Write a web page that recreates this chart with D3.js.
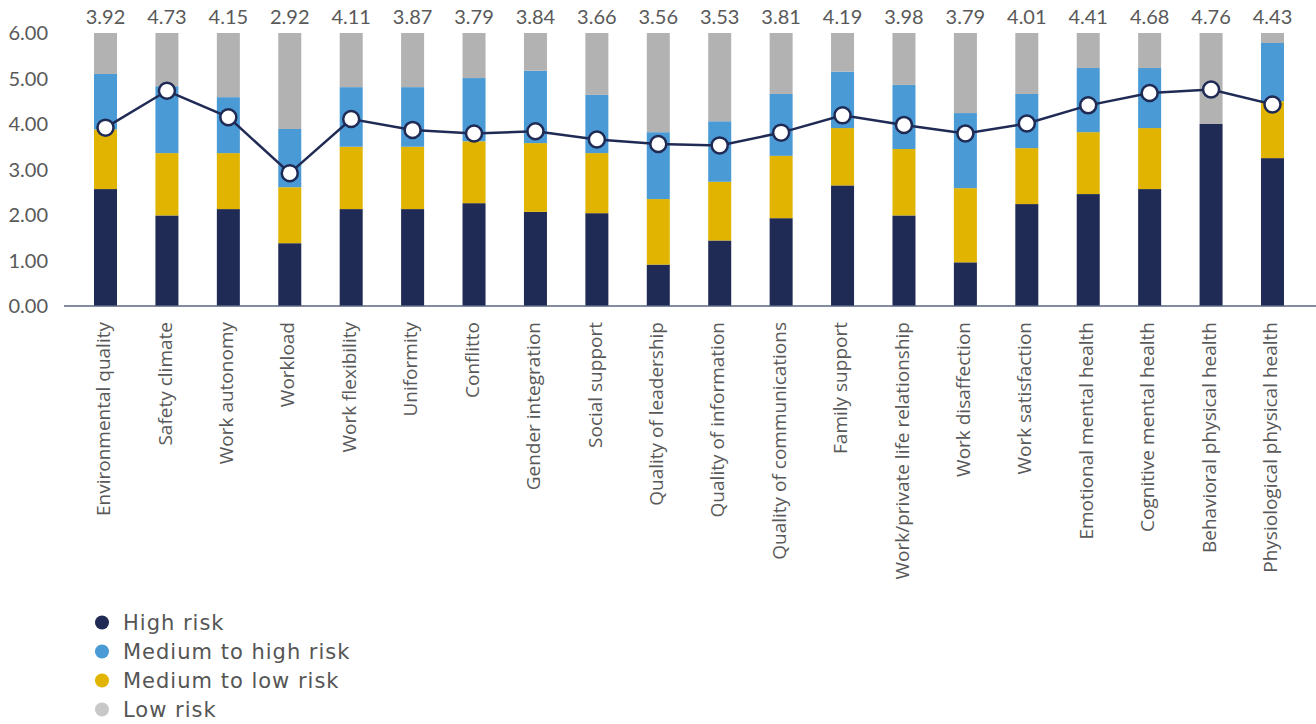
<!DOCTYPE html>
<html><head><meta charset="utf-8">
<script src="https://cdn.jsdelivr.net/npm/d3@7"></script>
<style>body{margin:0;background:#fff}svg{display:block}</style>
</head><body><svg id="c" width="1316" height="724"></svg>
<script>
const categories = ["Environmental quality","Safety climate","Work autonomy","Workload","Work flexibility","Uniformity","Conflitto","Gender integration","Social support","Quality of leadership","Quality of information","Quality of communications","Family support","Work/private life relationship","Work disaffection","Work satisfaction","Emotional mental health","Cognitive mental health","Behavioral physical health","Physiological physical health"];
const highRisk      = [2.57,1.99,2.13,1.38,2.13,2.13,2.26,2.07,2.04,0.91,1.44,1.93,2.65,1.99,0.96,2.24,2.46,2.57,4.00,3.25];
const mediumLowRisk = [1.31,1.37,1.23,1.23,1.37,1.37,1.36,1.51,1.32,1.44,1.29,1.37,1.26,1.46,1.63,1.23,1.36,1.34,0.00,1.25];
const mediumHighRisk= [1.22,1.47,1.23,1.28,1.31,1.31,1.39,1.59,1.28,1.47,1.33,1.36,1.24,1.41,1.65,1.19,1.41,1.32,0.00,1.28];
const lowRisk       = [0.90,1.17,1.41,2.11,1.19,1.19,0.99,0.83,1.36,2.18,1.94,1.34,0.85,1.14,1.76,1.34,0.77,0.77,2.00,0.22];
const meanScore     = [3.92,4.73,4.15,2.92,4.11,3.87,3.79,3.84,3.66,3.56,3.53,3.81,4.19,3.98,3.79,4.01,4.41,4.68,4.76,4.43];
const yTicks = [0,1,2,3,4,5,6];
const seriesNames = ["High risk","Medium to high risk","Medium to low risk","Low risk"];
</script>
<script>
// stacking order bottom->top: high (navy), medium-low (yellow), medium-high (blue), low (gray)
const stackKeys = ["high","medLow","medHigh","low"];
const colors = {high:"#1f2a55", medLow:"#e0b400", medHigh:"#4a9ad5", low:"#b2b2b2"};
const rows = categories.map((c,i)=>({cat:c, high:highRisk[i], medLow:mediumLowRisk[i], medHigh:mediumHighRisk[i], low:lowRisk[i]}));

const svg = d3.select("#c");
const x = d3.scaleBand().domain(categories).range([74.8,1303.2]).paddingInner(0.625).paddingOuter(0.3125);
const y = d3.scaleLinear().domain([0,6]).range([306,33]);
const stack = d3.stack().keys(stackKeys)(rows);
const g = svg.append("g");
g.selectAll("g.s").data(stack).join("g").attr("fill",d=>colors[d.key])
 .selectAll("rect").data(d=>d).join("rect")
 .attr("x",d=>x(d.data.cat)+ (x.bandwidth()-23)/2).attr("width",23)
 .attr("y",d=>y(d[1])).attr("height",d=>Math.max(0,y(d[0])-y(d[1])));
svg.append("line").attr("x1",64).attr("x2",1316).attr("y1",306).attr("y2",306).attr("stroke","#5a6680").attr("stroke-width",1.5);
svg.selectAll("text.yt").data(yTicks).join("text").attr("class","yt")
 .attr("x",48).attr("y",d=>y(d)).attr("dy","0.35em").attr("text-anchor","end")
 .style("font-family","Lato, 'Open Sans', sans-serif").style("font-size","20px").attr("fill","#595959")
 .text(d=>d3.format(".2f")(d));
const cx = d=>x(d)+x.bandwidth()/2;
svg.selectAll("text.vl").data(categories).join("text").attr("class","vl")
 .attr("x",d=>cx(d)).attr("y",17).attr("dy","0.35em").attr("text-anchor","middle")
 .style("font-family","Lato, 'Open Sans', sans-serif").style("font-size","20px").attr("fill","#595959")
 .text((d,i)=>d3.format(".2f")(meanScore[i]));
svg.selectAll("text.cl").data(categories).join("text").attr("class","cl")
 .attr("transform",d=>`translate(${cx(d)-2},322) rotate(-90)`).attr("dy","0.35em").attr("text-anchor","end")
 .style("font-family","'Open Sans', sans-serif").style("font-size","19px").attr("fill","#595959")
 .text(d=>d);
const line = d3.line().x((d,i)=>cx(categories[i])).y(d=>y(d));
svg.append("path").datum(meanScore).attr("d",line).attr("fill","none").attr("stroke","#1f2a55").attr("stroke-width",2.5);
svg.selectAll("circle.m").data(meanScore).join("circle").attr("class","m")
 .attr("cx",(d,i)=>cx(categories[i])).attr("cy",d=>y(d)).attr("r",8)
 .attr("fill","#fff").attr("stroke","#1f2a55").attr("stroke-width",2.5);
const legColors = ["#1f2a55","#4a9ad5","#e0b400","#c8c8c8"];
const lg = svg.append("g");
seriesNames.forEach((n,i)=>{
  const yy = 622.5 + i*29;
  lg.append("circle").attr("cx",102).attr("cy",yy).attr("r",7).attr("fill",legColors[i]);
  lg.append("text").attr("x",123).attr("y",yy).attr("dy","0.35em")
   .style("font-family","'DejaVu Sans', sans-serif").style("font-size","21px").style("letter-spacing","1px").attr("fill","#555").text(n);
});
</script>
</body></html>
